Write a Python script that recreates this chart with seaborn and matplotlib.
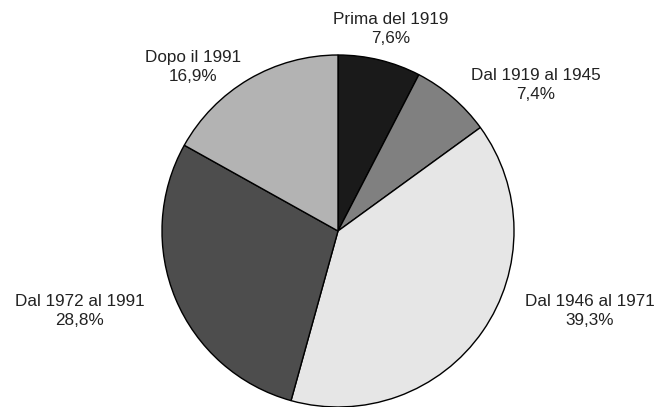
import matplotlib
matplotlib.use("Agg")
import matplotlib.pyplot as plt
import seaborn as sns

periods = ["Prima del 1919", "Dal 1919 al 1945", "Dal 1946 al 1971",
           "Dal 1972 al 1991", "Dopo il 1991"]
shares = [7.6, 7.4, 39.3, 28.8, 16.9]
share_labels = ["7,6%", "7,4%", "39,3%", "28,8%", "16,9%"]
greys = ["#1a1a1a", "#808080", "#e6e6e6", "#4d4d4d", "#b3b3b3"]

# label centres in pixel space (x, y from top)
label_pos = [(391, 29), (536, 85), (590, 311), (80, 311), (193, 67)]

sns.set_theme(style="white")
plt.rcParams['font.family'] = ['Liberation Sans', 'DejaVu Sans']

W, H = 654, 407
fig = plt.figure(figsize=(W / 100, H / 100), dpi=100)
ax = fig.add_axes([0, 0, 1, 1])

ax.pie(shares, colors=greys, startangle=90, counterclock=False,
       radius=176, center=(338, H - 231),
       wedgeprops=dict(edgecolor="black", linewidth=1.0), frame=True)
ax.set_xlim(0, W)
ax.set_ylim(0, H)
ax.set_aspect("equal")
ax.axis("off")

for name, pct, (px, py) in zip(periods, share_labels, label_pos):
    ax.text(px, H - py, name + "\n" + pct, ha="center", va="center",
            fontsize=12.3, color="#222222", linespacing=1.3)

fig.savefig("out.png", dpi=100, facecolor="white")
